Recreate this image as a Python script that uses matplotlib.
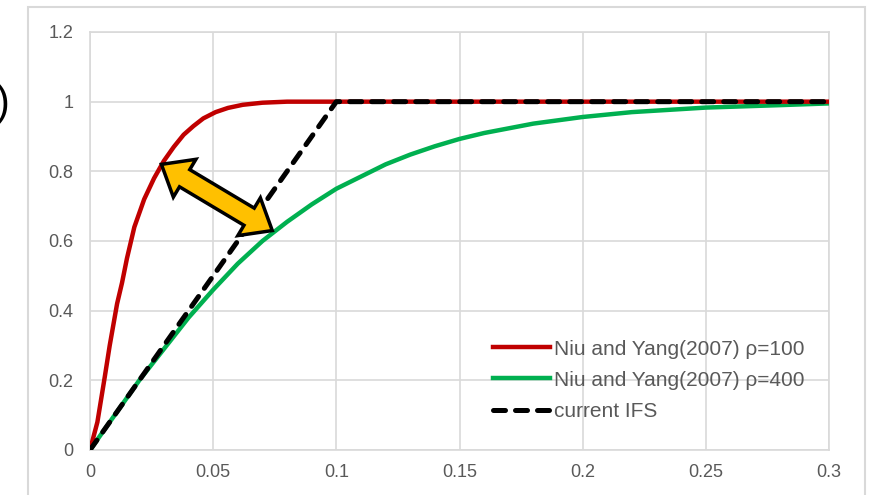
import numpy as np
import matplotlib.pyplot as plt
import matplotlib.transforms as mtransforms
from matplotlib.patches import Polygon, Rectangle

plt.rcParams['font.family'] = ['Liberation Sans', 'DejaVu Sans']

# values
x_red = [0, 0.003, 0.006, 0.008, 0.011, 0.013, 0.015, 0.018, 0.022, 0.026,
         0.03, 0.034, 0.038, 0.042, 0.046, 0.051, 0.056, 0.062, 0.07, 0.08, 0.1, 0.3]
y_red = [0, 0.08, 0.21, 0.30, 0.42, 0.48, 0.55, 0.64, 0.72, 0.78,
         0.83, 0.87, 0.905, 0.93, 0.952, 0.97, 0.982, 0.991, 0.997, 1.0, 1.0, 1.0]

x_green = [0, 0.01, 0.02, 0.03, 0.04, 0.05, 0.06, 0.07, 0.08, 0.09, 0.1,
           0.11, 0.12, 0.13, 0.14, 0.15, 0.16, 0.18, 0.2, 0.22, 0.25, 0.28, 0.3]
y_green = [0, 0.10, 0.20, 0.29, 0.38, 0.46, 0.535, 0.60, 0.655, 0.705, 0.75,
           0.785, 0.82, 0.848, 0.872, 0.893, 0.91, 0.937, 0.956, 0.97, 0.983, 0.99, 0.995]

x_ifs = [0, 0.1, 0.3]
y_ifs = [0, 1, 1]

labels = ['Niu and Yang(2007) ρ=100', 'Niu and Yang(2007) ρ=400', 'current IFS']
arrow_ends = [(0.029, 0.82), (0.074, 0.63)]

grid_col = '#d9d9d9'
text_col = '#595959'

fig = plt.figure(figsize=(8.74, 4.95), dpi=100)
ax = fig.add_axes([90 / 874, 45 / 495, 739 / 874, 418 / 495])

# outer chart frame
fig.add_artist(Rectangle((28 / 874, -0.05), 837 / 874, 0.05 + 488 / 495,
                         transform=fig.transFigure, fill=False,
                         edgecolor=grid_col, lw=1.5))

g, = ax.plot(x_green, y_green, color='#00b050', lw=3.2, zorder=3)
r, = ax.plot(x_red, y_red, color='#c00000', lw=3.2, zorder=4)
k, = ax.plot(x_ifs, y_ifs, color='black', lw=3.6, zorder=5,
             dashes=(2.4, 2.0), dash_capstyle='round')

ax.set_xlim(0, 0.3)
ax.set_ylim(0, 1.2)
ax.set_xticks(np.arange(0, 0.301, 0.05))
ax.set_xticklabels(['0', '0.05', '0.1', '0.15', '0.2', '0.25', '0.3'])
ax.set_yticks(np.arange(0, 1.21, 0.2))
ax.set_yticklabels(['0', '0.2', '0.4', '0.6', '0.8', '1', '1.2'])
ax.grid(True, color=grid_col, lw=1.2)
ax.set_axisbelow(True)
for s in ax.spines.values():
    s.set_color(grid_col)
    s.set_linewidth(1.2)
ax.tick_params(length=0, labelsize=13, labelcolor=text_col)
ax.tick_params(axis='y', pad=12)
ax.tick_params(axis='x', pad=10)

ax.legend([r, g, k], labels, loc='lower right', frameon=False,
          fontsize=15, labelcolor=text_col, handlelength=2.7,
          handletextpad=0.2, labelspacing=0.58,
          bbox_to_anchor=(0.992, 0.025))

# double-headed block arrow, built in pixel space
p0 = ax.transData.transform(arrow_ends[0])
p1 = ax.transData.transform(arrow_ends[1])
u = (p1 - p0) / np.linalg.norm(p1 - p0)
n = np.array([-u[1], u[0]])
hl, hw, sw = 27, 22, 10
pts = [p0, p0 + u * hl + n * hw, p0 + u * hl + n * sw,
       p1 - u * hl + n * sw, p1 - u * hl + n * hw, p1,
       p1 - u * hl - n * hw, p1 - u * hl - n * sw,
       p0 + u * hl - n * sw, p0 + u * hl - n * hw]
ax.add_patch(Polygon(pts, closed=True, facecolor='#ffc000', edgecolor='black',
                     lw=2.5, joinstyle='miter',
                     transform=mtransforms.IdentityTransform(),
                     clip_on=False, zorder=6))

# cut-off bracket at the left edge
fig.text(-4 / 874, 0.79, ')', fontsize=30, color='black', ha='left', va='center')

fig.savefig('out.png', dpi=100)
